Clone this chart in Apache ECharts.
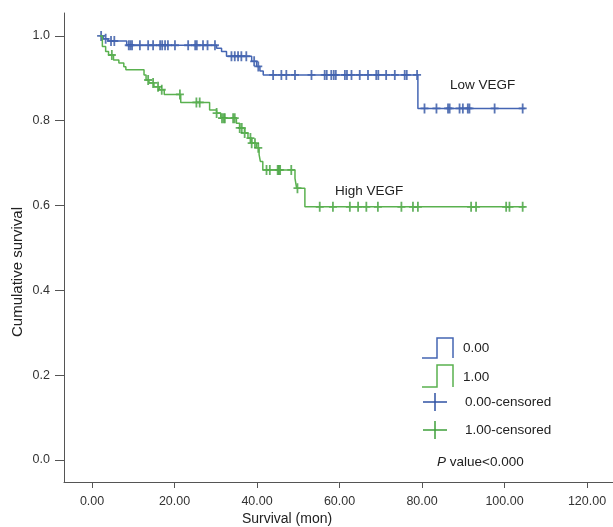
<!DOCTYPE html>
<html>
<head>
<meta charset="utf-8">
<style>
    html, body { margin: 0; padding: 0; background: #fff; }
    #container { width: 613px; height: 527px; }
</style>
</head>
<body>
<div id="container"></div>
<script src="https://cdn.jsdelivr.net/npm/echarts@6/dist/echarts.min.js"></script>
<script>
    // Kaplan-Meier steps: time where survival drops, and the new level
    var lowTimes = [1.9, 2.7, 3.9, 8.4, 30.2, 31.4, 32.6, 38.7, 39.9, 40.7, 41.5, 79.0, 105];
    var lowSurv = [1.0, 0.993, 0.988, 0.978, 0.971, 0.963, 0.952, 0.940, 0.928, 0.917, 0.908, 0.829, 0.829];

    var highTimes = [1.9, 2.5, 3.3, 4.0, 5.2, 6.5, 7.7, 8.2, 12.6, 13.1, 13.8, 15.0, 16.3, 17.5, 21.5, 28.5,
        30.2, 31.2, 35.0, 35.8, 37.0, 37.8, 38.7, 39.9, 40.5, 40.8, 41.4, 49.2, 49.6, 51.6, 105];
    var highSurv = [1.0, 0.975, 0.963, 0.955, 0.943, 0.936, 0.927, 0.920, 0.908, 0.896, 0.889, 0.880, 0.873, 0.862, 0.843, 0.825,
        0.818, 0.806, 0.794, 0.783, 0.771, 0.759, 0.747, 0.736, 0.720, 0.704, 0.684, 0.664, 0.641, 0.597, 0.597];

    // censored observations (months)
    var lowCens = [2.2, 3.3, 4.6, 5.4, 8.9, 9.3, 9.7, 11.6, 13.6, 14.8, 16.5, 17.0, 17.7, 18.4, 20.1, 23.3, 25.0, 25.4,
        26.9, 28.0, 29.8, 33.8, 34.6, 35.4, 36.2, 37.4, 39.3, 40.3, 43.9, 45.9, 47.1, 49.2, 53.2, 56.4, 56.9, 58.0,
        58.6, 59.1, 61.3, 61.8, 62.9, 64.9, 66.9, 68.9, 69.4, 71.3, 73.4, 75.8, 76.3, 78.8, 80.6, 83.5, 86.3, 86.7,
        89.1, 89.9, 91.1, 91.5, 97.6, 104.4];
    var highCens = [4.8, 13.6, 14.8, 16.0, 16.9, 21.3, 25.3, 26.1, 30.2, 31.5, 31.9, 32.2, 34.2, 34.6, 35.8, 36.3,
        37.0, 38.4, 38.7, 39.5, 40.3, 42.3, 43.1, 45.0, 45.3, 45.6, 48.3, 49.8, 55.2, 58.4, 62.5, 64.5, 66.5, 69.3,
        75.0, 77.8, 79.0, 91.9, 93.1, 100.4, 101.2, 104.4];

    var xTicks = [0, 20, 40, 60, 80, 100, 120];
    var yTicks = [0, 0.2, 0.4, 0.6, 0.8, 1.0];

    var blue = '#4465b3';
    var blueDark = '#2f52a3';
    var green = '#5ab14f';
    var greenDark = '#3e9f3a';

    function steps(times, surv) {
        return times.map(function (t, i) { return [t, surv[i]]; });
    }
    function levelAt(times, surv, t) {
        var s = surv[0];
        for (var i = 0; i < times.length; i++) {
            if (times[i] <= t) s = surv[i];
        }
        return s;
    }
    function censPoints(cens, times, surv) {
        return cens.map(function (t) { return [t, levelAt(times, surv, t)]; });
    }

    var plus = 'path://M3.1,0H4.9V4.1H8V5.9H4.9V10H3.1V5.9H0V4.1H3.1Z';
    var txt = '#222';
    var font = 'Liberation Sans, Arial, sans-serif';

    var myChart = echarts.init(document.getElementById('container'));
    var option = {
        animation: false,
        grid: { left: 64, right: 0, top: 13, bottom: 45 },
        xAxis: {
            type: 'value',
            min: -6.8,
            max: 126.3,
            splitLine: { show: false },
            axisLine: { onZero: false, lineStyle: { color: '#555', width: 1 } },
            axisTick: { customValues: xTicks, length: 6, lineStyle: { color: '#555' } },
            axisLabel: {
                customValues: xTicks,
                margin: 13,
                fontSize: 12.5,
                fontFamily: font,
                color: '#333',
                formatter: function (v) { return v.toFixed(2); }
            }
        },
        yAxis: {
            type: 'value',
            min: -0.052,
            max: 1.054,
            splitLine: { show: false },
            axisLine: { show: true, onZero: false, lineStyle: { color: '#555', width: 1 } },
            axisTick: { show: true, customValues: yTicks, length: 9, lineStyle: { color: '#555' } },
            axisLabel: {
                customValues: yTicks,
                margin: 14,
                fontSize: 12.5,
                fontFamily: font,
                color: '#333',
                formatter: function (v) { return v.toFixed(1); }
            }
        },
        series: [
            {
                name: '0.00', type: 'line', step: 'end', showSymbol: false,
                data: steps(lowTimes, lowSurv),
                lineStyle: { color: blue, width: 1.5 }
            },
            {
                name: '1.00', type: 'line', step: 'end', showSymbol: false,
                data: steps(highTimes, highSurv),
                lineStyle: { color: green, width: 1.5 }
            },
            {
                name: '0.00-censored', type: 'scatter', symbol: plus, symbolSize: [8, 10],
                data: censPoints(lowCens, lowTimes, lowSurv),
                itemStyle: { color: blueDark }
            },
            {
                name: '1.00-censored', type: 'scatter', symbol: plus, symbolSize: [8, 10],
                data: censPoints(highCens, highTimes, highSurv),
                itemStyle: { color: greenDark }
            }
        ],
        graphic: [
            // axis names
            { type: 'text', x: 287, y: 519, style: { text: 'Survival (mon)', fill: txt, font: '14px ' + font, textAlign: 'center', textVerticalAlign: 'middle' } },
            { type: 'text', x: 18, y: 272, rotation: Math.PI / 2, style: { text: 'Cumulative survival', fill: txt, font: '15px ' + font, textAlign: 'center', textVerticalAlign: 'middle' } },
            // curve labels
            { type: 'text', x: 450, y: 85, style: { text: 'Low VEGF', fill: txt, font: '13.5px ' + font, textVerticalAlign: 'middle' } },
            { type: 'text', x: 335, y: 191, style: { text: 'High VEGF', fill: txt, font: '13.5px ' + font, textVerticalAlign: 'middle' } },
            // legend
            { type: 'polyline', shape: { points: [[422, 358], [437, 358], [437, 338], [453, 338], [453, 358]] }, style: { stroke: blue, lineWidth: 1.5, fill: null } },
            { type: 'text', x: 463, y: 348, style: { text: '0.00', fill: txt, font: '13.5px ' + font, textVerticalAlign: 'middle' } },
            { type: 'polyline', shape: { points: [[422, 387], [437, 387], [437, 365], [453, 365], [453, 387]] }, style: { stroke: green, lineWidth: 1.5, fill: null } },
            { type: 'text', x: 463, y: 377, style: { text: '1.00', fill: txt, font: '13.5px ' + font, textVerticalAlign: 'middle' } },
            { type: 'line', shape: { x1: 423, y1: 402, x2: 447, y2: 402 }, style: { stroke: blueDark, lineWidth: 1.5 } },
            { type: 'line', shape: { x1: 435, y1: 393, x2: 435, y2: 411 }, style: { stroke: blueDark, lineWidth: 1.5 } },
            { type: 'text', x: 465, y: 402, style: { text: '0.00-censored', fill: txt, font: '13.5px ' + font, textVerticalAlign: 'middle' } },
            { type: 'line', shape: { x1: 423, y1: 430, x2: 447, y2: 430 }, style: { stroke: greenDark, lineWidth: 1.5 } },
            { type: 'line', shape: { x1: 435, y1: 421, x2: 435, y2: 439 }, style: { stroke: greenDark, lineWidth: 1.5 } },
            { type: 'text', x: 465, y: 430, style: { text: '1.00-censored', fill: txt, font: '13.5px ' + font, textVerticalAlign: 'middle' } },
            {
                type: 'text', x: 437, y: 462,
                style: {
                    text: '{i|P} value<0.000',
                    fill: txt, font: '13.5px ' + font, textVerticalAlign: 'middle',
                    rich: { i: { fontStyle: 'italic', fontSize: 13.5, fontFamily: font, fill: txt } }
                }
            }
        ]
    };
    if (option && typeof option === "object") {
        myChart.setOption(option, true);
    }
</script>
</body>
</html>
